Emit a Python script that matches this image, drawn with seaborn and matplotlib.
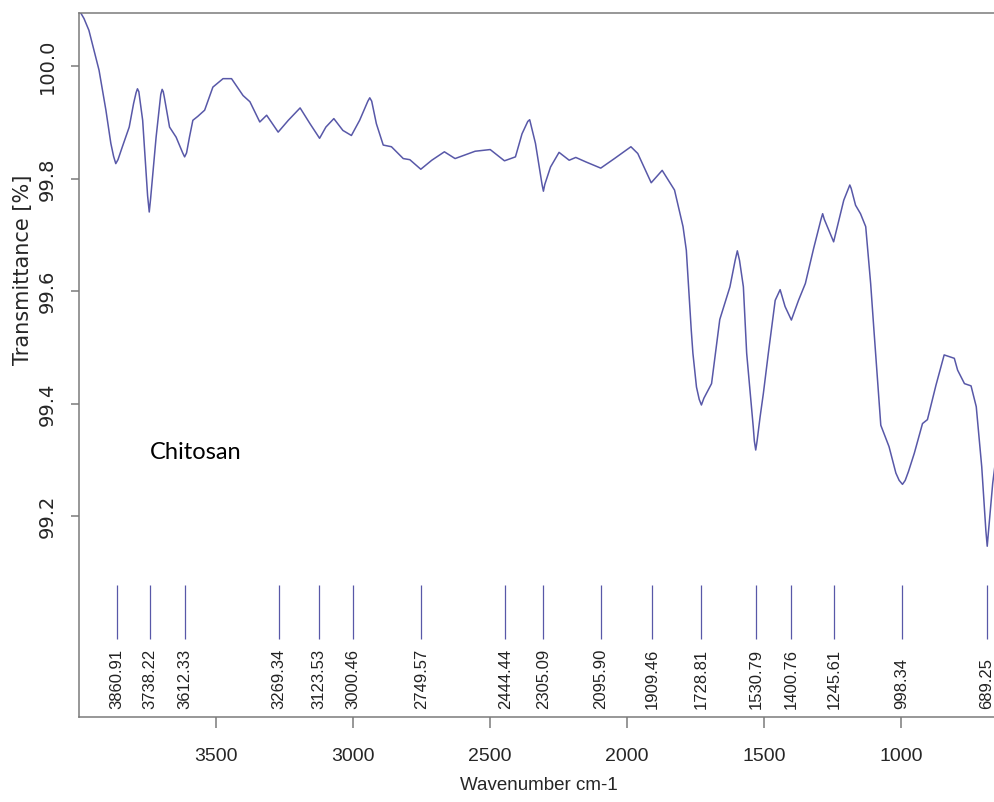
import numpy as np
import pandas as pd
import matplotlib
matplotlib.use("Agg")
import matplotlib.pyplot as plt
import seaborn as sns

# FTIR spectrum of chitosan
wavenumber = [
    3998, 3980, 3962, 3925, 3900, 3882, 3872, 3864, 3856, 3840, 3815, 3799,
    3790, 3785, 3780, 3776, 3766, 3754, 3748, 3742, 3737, 3730, 3717, 3705,
    3700, 3695, 3691, 3687, 3668, 3644, 3620, 3613, 3606, 3595, 3583, 3565,
    3540, 3510, 3473, 3442, 3400, 3375, 3339, 3314, 3272, 3235, 3192, 3156,
    3121, 3098, 3069, 3036, 3005, 2975, 2945, 2938, 2931, 2914, 2889, 2859,
    2816, 2792, 2752, 2712, 2666, 2627, 2554, 2499, 2447, 2407, 2383, 2362,
    2355, 2334, 2310, 2305, 2300, 2279, 2248, 2211, 2187, 2150, 2096, 2046,
    1986, 1961, 1912, 1872, 1827, 1796, 1784, 1766, 1760, 1747, 1737, 1729,
    1720, 1692, 1662, 1625, 1606, 1598, 1590, 1576, 1564, 1540, 1536, 1531,
    1526, 1515, 1503, 1485, 1460, 1442, 1424, 1401, 1375, 1350, 1320, 1293,
    1287, 1281, 1265, 1247, 1232, 1210, 1193, 1188, 1183, 1167, 1149, 1130,
    1112, 1100, 1075, 1045, 1020, 1008, 996, 986, 974, 953, 923, 905, 874,
    844, 825, 807, 795, 770, 746, 727, 707, 692, 687, 683, 667, 655, 646,
]
transmittance = [
    100.10, 100.085, 100.064, 99.993, 99.922, 99.863, 99.840, 99.827, 99.834,
    99.857, 99.892, 99.934, 99.953, 99.960, 99.955, 99.940, 99.904, 99.815,
    99.770, 99.741, 99.765, 99.803, 99.874, 99.928, 99.950, 99.959, 99.955,
    99.945, 99.892, 99.874, 99.846, 99.839, 99.846, 99.875, 99.904, 99.911,
    99.922, 99.963, 99.978, 99.978, 99.948, 99.937, 99.901, 99.913, 99.883,
    99.904, 99.926, 99.898, 99.872, 99.892, 99.907, 99.886, 99.877, 99.904,
    99.938, 99.944, 99.938, 99.898, 99.860, 99.857, 99.836, 99.834, 99.817,
    99.833, 99.848, 99.836, 99.849, 99.852, 99.832, 99.839, 99.880, 99.902,
    99.905, 99.863, 99.790, 99.778, 99.790, 99.821, 99.847, 99.833, 99.838,
    99.830, 99.819, 99.836, 99.857, 99.845, 99.793, 99.815, 99.780, 99.715,
    99.673, 99.531, 99.490, 99.430, 99.408, 99.398, 99.410, 99.436, 99.550,
    99.608, 99.655, 99.672, 99.655, 99.608, 99.490, 99.359, 99.334, 99.318,
    99.334, 99.377, 99.419, 99.490, 99.584, 99.603, 99.573, 99.549, 99.584,
    99.614, 99.676, 99.728, 99.738, 99.728, 99.709, 99.688, 99.718, 99.762,
    99.783, 99.789, 99.783, 99.753, 99.738, 99.715, 99.614, 99.531, 99.362,
    99.324, 99.277, 99.264, 99.257, 99.264, 99.280, 99.312, 99.365, 99.372,
    99.433, 99.487, 99.484, 99.481, 99.460, 99.436, 99.432, 99.395, 99.288,
    99.175, 99.147, 99.170, 99.259, 99.305, 99.312,
]

peak_positions = [3860.91, 3738.22, 3612.33, 3269.34, 3123.53, 3000.46,
                  2749.57, 2444.44, 2305.09, 2095.90, 1909.46, 1728.81,
                  1530.79, 1400.76, 1245.61, 998.34, 689.25]
peak_labels = [f"{p:.2f}" for p in peak_positions]

x_ticks = [3500, 3000, 2500, 2000, 1500, 1000]
y_ticks = [99.2, 99.4, 99.6, 99.8, 100.0]

line_color = "#5858a8"
spine_color = "#7a7a7a"

df = pd.DataFrame({"wavenumber": wavenumber, "transmittance": transmittance})

sns.set_style("ticks")
plt.rcParams["font.family"] = ["Liberation Sans", "DejaVu Sans"]

fig = plt.figure(figsize=(9.94, 8.02), dpi=100)
ax = fig.add_axes([0.0795, 0.106, 0.925, 0.878])

sns.lineplot(data=df, x="wavenumber", y="transmittance", ax=ax,
             color=line_color, linewidth=1.1, estimator=None, sort=False)
ax.lines[0].set_solid_joinstyle("round")

# peak markers and their labels
ax.vlines(peak_positions, 98.982, 99.078, color=line_color, linewidth=0.9)
for pos, lab in zip(peak_positions, peak_labels):
    ax.text(pos, 98.858, lab, rotation=90, ha="center", va="bottom",
            fontsize=12, color="#222222")

ax.text(3738, 99.313, "Chitosan", fontsize=17, family=["Lato", "DejaVu Sans"],
        ha="left", va="center", color="black")

ax.set_xlim(3998, 646)
ax.set_ylim(98.8435, 100.095)

ax.set_xticks(x_ticks)
ax.set_xticklabels([str(t) for t in x_ticks], fontsize=14)
ax.set_yticks(y_ticks)
ax.set_yticklabels([f"{t:.1f}" for t in y_ticks], rotation=90, va="center",
                   family=["DejaVu Sans"], fontsize=14)

ax.tick_params(axis="x", length=8, width=1.1, color=spine_color, pad=14)
ax.tick_params(axis="y", length=6, width=1.1, color=spine_color, pad=10)

ax.set_xlabel("Wavenumber cm-1", fontsize=13.5, labelpad=9)
ax.set_ylabel("Transmittance [%]", fontsize=15, family=["DejaVu Sans"])
ax.yaxis.set_label_coords(-0.050, 0.635)

for side in ["left", "bottom", "top"]:
    ax.spines[side].set_color(spine_color)
    ax.spines[side].set_linewidth(1.1)
ax.spines["right"].set_visible(False)

fig.savefig("out.png", dpi=100)
plt.close(fig)
